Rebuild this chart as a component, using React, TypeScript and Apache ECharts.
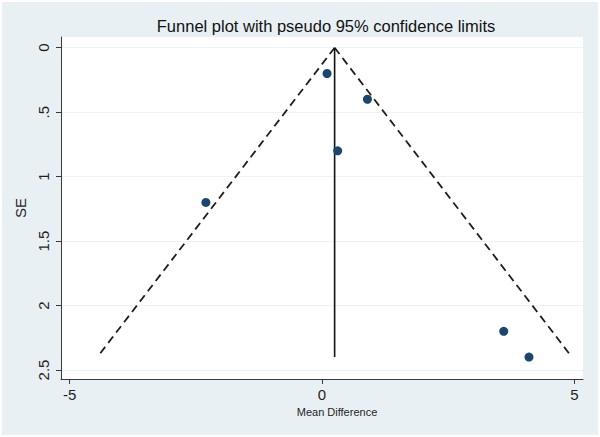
import React, { useEffect, useRef } from "react";
import * as echarts from "echarts";

// Study estimates: mean difference (x) against its standard error (y)
const meanDiff = [0.1, 0.9, 0.31, -2.3, 3.6, 4.1];
const stdErr = [0.2, 0.4, 0.8, 1.2, 2.2, 2.4];

// Pooled estimate and the pseudo 95% limits at the largest SE
const pooled = 0.25;
const maxSE = 2.4;
const lowerLimitAtMax = -4.45;
const upperLimitAtMax = 4.95;

const xTicks = [-5, 0, 5];
const yTicks = [0, 0.5, 1, 1.5, 2, 2.5];
const yTickLabels = ["0", ".5", "1", "1.5", "2", "2.5"];

const FONT = "'Liberation Sans', Arial, sans-serif";
const NAVY = "#1a476f";
const INK = "#1f1f1f";

export default function App() {
  const ref = useRef<HTMLDivElement>(null);

  useEffect(() => {
    document.body.style.margin = "0";
    const chart = echarts.init(ref.current!, undefined, { renderer: "svg" });

    const points = meanDiff.map((x, i) => [x, stdErr[i]]);

    chart.setOption({
      animation: false,
      backgroundColor: "#ffffff",
      graphic: [
        {
          type: "rect",
          z: -10,
          silent: true,
          shape: { x: 2, y: 2, width: 596, height: 433 },
          style: { fill: "#e9f0f3" },
        },
      ],
      title: {
        text: "Funnel plot with pseudo 95% confidence limits",
        left: 321,
        top: 12,
        textAlign: "center",
        textStyle: {
          fontFamily: FONT,
          fontSize: 16.5,
          fontWeight: "normal",
          color: "#111",
        },
      },
      grid: {
        left: 61,
        top: 37,
        width: 522,
        height: 342,
        show: true,
        backgroundColor: "#ffffff",
        borderWidth: 0,
      },
      xAxis: {
        type: "value",
        min: -5.17,
        max: 5.17,
        name: "Mean Difference",
        nameLocation: "middle",
        nameGap: 26,
        nameTextStyle: {
          fontFamily: FONT,
          fontSize: 11,
          color: INK,
          padding: [0, 0, 0, 30],
        },
        axisLine: { onZero: false, lineStyle: { color: "#3a3a3a", width: 1 } },
        axisTick: {
          show: true,
          length: 5,
          customValues: xTicks,
          lineStyle: { color: "#3a3a3a" },
        },
        axisLabel: {
          customValues: xTicks,
          fontFamily: FONT,
          fontSize: 15,
          color: INK,
          margin: 8,
        },
        splitLine: { show: false },
      },
      yAxis: {
        type: "value",
        inverse: true,
        min: -0.083,
        max: 2.57,
        name: "SE",
        nameLocation: "middle",
        nameRotate: 90,
        nameGap: 25,
        nameTextStyle: { fontFamily: FONT, fontSize: 15, color: INK },
        axisLine: {
          show: true,
          onZero: false,
          lineStyle: { color: "#3a3a3a", width: 1 },
        },
        axisTick: {
          show: true,
          length: 5,
          customValues: yTicks,
          lineStyle: { color: "#3a3a3a" },
        },
        axisLabel: {
          customValues: yTicks,
          rotate: 90,
          fontFamily: FONT,
          fontSize: 15,
          color: INK,
          margin: 10,
          formatter: (v: number) => yTickLabels[yTicks.indexOf(v)] ?? String(v),
        },
        splitLine: { show: true, lineStyle: { color: "#edf2f4", width: 1 } },
      },
      series: [
        {
          name: "lower limit",
          type: "line",
          data: [
            [pooled, 0],
            [lowerLimitAtMax, maxSE],
          ],
          symbol: "none",
          lineStyle: { color: "#1e1e1e", width: 1.8, type: [8, 5] },
          z: 2,
        },
        {
          name: "upper limit",
          type: "line",
          data: [
            [pooled, 0],
            [upperLimitAtMax, maxSE],
          ],
          symbol: "none",
          lineStyle: { color: "#1e1e1e", width: 1.8, type: [8, 5] },
          z: 2,
        },
        {
          name: "pooled",
          type: "line",
          data: [
            [pooled, 0],
            [pooled, maxSE],
          ],
          symbol: "none",
          lineStyle: { color: "#111", width: 1.6 },
          z: 2,
        },
        {
          name: "studies",
          type: "scatter",
          data: points,
          symbol: "circle",
          symbolSize: 9,
          itemStyle: { color: NAVY, opacity: 1 },
          z: 3,
        },
      ],
    });

    return () => chart.dispose();
  }, []);

  return (
    <div
      ref={ref}
      style={{ position: "absolute", left: 0, top: 0, width: 600, height: 437 }}
    />
  );
}
